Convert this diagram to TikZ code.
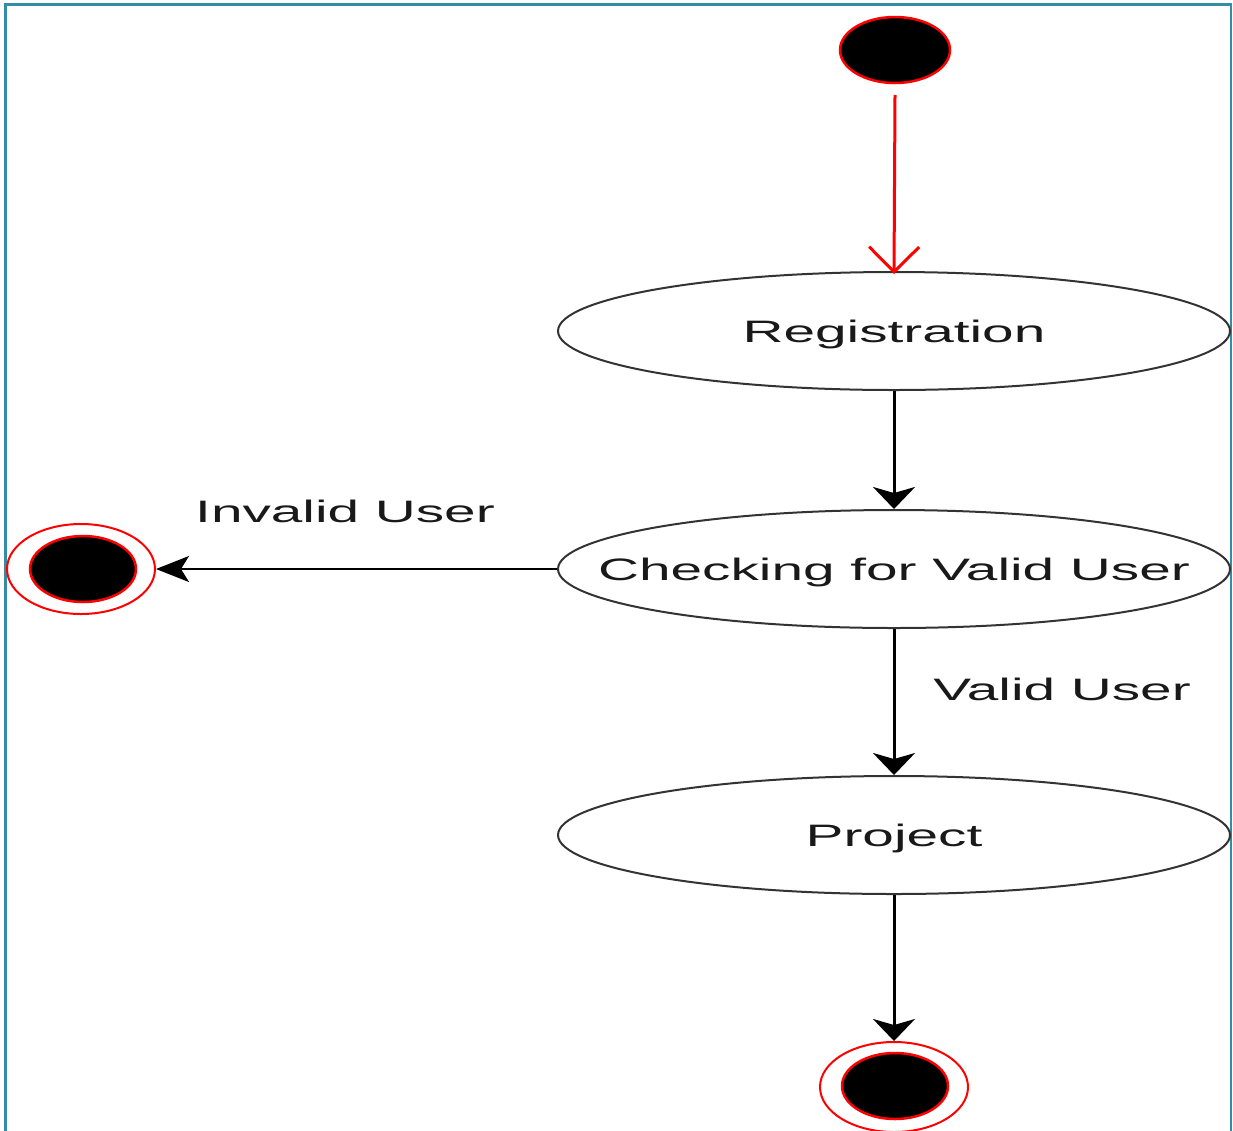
\documentclass[tikz,border=0pt]{standalone}
\usepackage{fontspec}
\setmainfont[FakeStretch=1.83]{Liberation Sans}
\usetikzlibrary{shapes.geometric,arrows.meta}
\definecolor{framecol}{RGB}{52,140,166}
\definecolor{umlred}{RGB}{255,0,0}
\newcommand{\zw}[1]{\makebox[0pt][c]{#1}}
\begin{document}
\begin{tikzpicture}[x=1pt,y=-1pt,
  act/.style={ellipse,draw=black!80,line width=2pt,minimum width=672pt,minimum height=118pt,inner sep=0pt,font=\fontsize{31}{36}\selectfont,text=black!90,text height=22pt,text depth=0pt},
  lbl/.style={font=\fontsize{31}{36}\selectfont,text=black!90,inner sep=0pt,text height=22pt,text depth=0pt},
  startst/.style={ellipse,fill=black,draw=umlred,line width=2.5pt,minimum width=110pt,minimum height=66pt,inner sep=0pt},
  endouter/.style={ellipse,draw=umlred,line width=2pt,minimum width=148pt,minimum height=90pt,inner sep=0pt},
  endinner/.style={ellipse,fill=black,draw=umlred,line width=2.5pt,minimum width=106pt,minimum height=66pt,inner sep=0pt},
  flow/.style={line width=3pt,-{Stealth[length=22pt,width=42pt,inset=6pt]}},
  thinflow/.style={line width=2pt,-{Stealth[length=33pt,width=26pt,inset=8pt]}},
  redflow/.style={line width=3pt,draw=umlred,-{Straight Barb[length=25pt,width=50pt,line width=3pt]}}]
\useasboundingbox (0,0) rectangle (1233,1130);
\draw[framecol,line width=2.2pt] (5.5,1140) -- (5.5,4.5) -- (1231,4.5) -- (1231,1140);

\node[startst] (start) at (895,50) {};
\node[act] (reg) at (894,331) {\zw{Registration}};
\node[act] (chk) at (894,569) {\zw{Checking for Valid User}};
\node[act] (proj) at (894,835) {\zw{Project}};
\node[endouter] (endL) at (81,569) {};
\node[endinner] (endLi) at (83,569) {};
\node[endouter] (endB) at (894,1087) {};
\node[endinner] (endBi) at (895,1086) {};

\coordinate (startout) at (895,95);
\draw[redflow] (startout) -- ([yshift=-3pt]reg.north);
\draw[flow] (reg.south) -- (chk.north);
\draw[flow] (chk.south) -- (proj.north);
\draw[flow] (proj.south) -- (endB.north);
\draw[thinflow] (chk.west) -- (endL.east);

\node[lbl] (inv) at (345,511) {Invalid User};
\node[lbl] (val) at (1062,689) {Valid User};
\end{tikzpicture}
\end{document}
